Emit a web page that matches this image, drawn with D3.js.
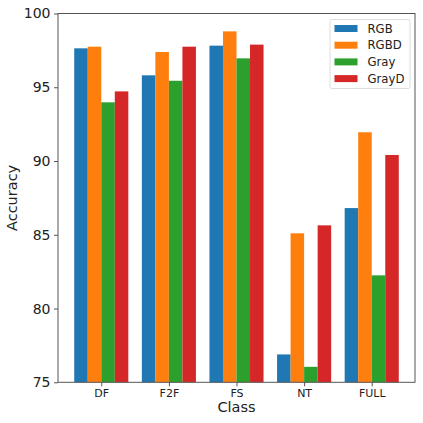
<!DOCTYPE html>
<html><head><meta charset="utf-8">
<script src="https://cdn.jsdelivr.net/npm/d3@7"></script>
<style>body{margin:0;background:#fff}svg{display:block}text{font-family:"DejaVu Sans",sans-serif}</style>
</head><body><svg id="c" width="423" height="423"></svg>
<script>
const categories = ["DF","F2F","FS","NT","FULL"];
const seriesNames = ["RGB","RGBD","Gray","GrayD"];
const colors = ["#1f77b4","#ff7f0e","#2ca02c","#d62728"];
const RGB   = [97.64, 95.81, 97.82, 76.89, 86.81];
const RGBD  = [97.75, 97.39, 98.79, 85.10, 91.95];
const Gray  = [93.98, 95.44, 96.96, 76.05, 82.25];
const GrayD = [94.72, 97.75, 97.89, 85.64, 90.41];
const yTicks = [75, 80, 85, 90, 95, 100];
const series = [RGB, RGBD, Gray, GrayD];

const L = 58, R = 415, T = 13.5, B = 382.3;
const svg = d3.select("#c");
const x = d3.scaleLinear().domain([-0.64, 4.64]).range([L, R]);
const y = d3.scaleLinear().domain([75, 100]).range([B, T]);
const bw = 0.2;

series.forEach((vals, si) => {
  svg.append("g").selectAll("rect").data(vals).join("rect")
    .attr("x", (d, i) => x(i - 0.4 + si * bw))
    .attr("width", x(bw) - x(0))
    .attr("y", d => y(d))
    .attr("height", d => y(75) - y(d))
    .attr("fill", colors[si]);
});

const yAxis = svg.append("g").attr("transform", `translate(${L},0)`)
  .call(d3.axisLeft(y).tickValues(yTicks).tickSize(4).tickPadding(3.5));
yAxis.selectAll("text").attr("font-size", 14).attr("fill", "#222").attr("font-family", "DejaVu Sans");
const xAxis = svg.append("g").attr("transform", `translate(0,${B})`)
  .call(d3.axisBottom(x).tickValues(d3.range(categories.length)).tickFormat(i => categories[i]).tickSize(4).tickPadding(3));
xAxis.selectAll("text").attr("font-size", 11).attr("fill", "#222").attr("font-family", "DejaVu Sans");
[yAxis, xAxis].forEach(a => { a.select(".domain").remove(); a.selectAll("line").attr("stroke", "#555"); });

svg.append("rect").attr("x", L).attr("y", T).attr("width", R - L).attr("height", B - T)
  .attr("fill", "none").attr("stroke", "#555").attr("stroke-width", 1);

svg.append("text").attr("x", (L + R) / 2).attr("y", 412).attr("text-anchor", "middle")
  .attr("font-size", 14.5).attr("fill", "#222").text("Class");
svg.append("text").attr("transform", `translate(17,${(T + B) / 2}) rotate(-90)`).attr("text-anchor", "middle")
  .attr("font-size", 14.5).attr("fill", "#222").text("Accuracy");

const lg = svg.append("g");
lg.append("rect").attr("x", 330).attr("y", 19.5).attr("width", 80).attr("height", 69).attr("rx", 2)
  .attr("fill", "#fff").attr("stroke", "#ddd");
seriesNames.forEach((n, i) => {
  const cy = 28.5 + i * 16.7;
  lg.append("rect").attr("x", 334.5).attr("y", cy - 3.5).attr("width", 23).attr("height", 7).attr("fill", colors[i]);
  lg.append("text").attr("x", 367.5).attr("y", cy + 4.2).attr("font-size", 11.7).attr("fill", "#222").text(n);
});
</script></body></html>
